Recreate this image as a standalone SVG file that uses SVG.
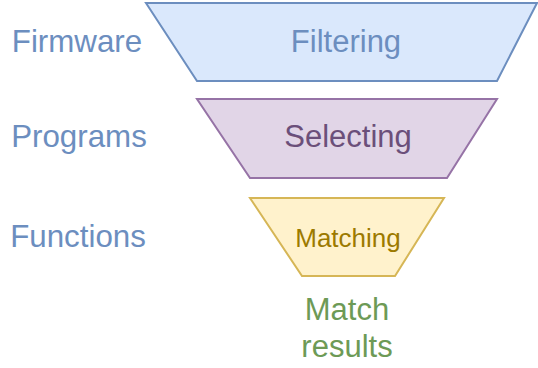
<svg xmlns="http://www.w3.org/2000/svg" width="538" height="368" viewBox="0 0 538 368">
<style>
text{font-family:"Liberation Sans",Arial,sans-serif;text-anchor:middle}
.lbl{font-size:31.3px;fill:#6c8ebf}
.blue{fill:#dae8fc;stroke:#6c8ebf;stroke-width:2}
.purple{fill:#e1d5e7;stroke:#9673a6;stroke-width:2}
.yellow{fill:#fff2cc;stroke:#d6b656;stroke-width:2}
</style>
<rect width="538" height="368" fill="#ffffff"/>
<g id="firmware"><text class="lbl" x="77" y="52">Firmware</text></g>
<g id="programs"><text class="lbl" x="79" y="147">Programs</text></g>
<g id="functions"><text class="lbl" x="78" y="247">Functions</text></g>
<g id="filtering">
<polygon class="blue" points="146,3 537,3 497,81 197,81"/>
<text x="346" y="52" style="font-size:31px;fill:#6c8ebf">Filtering</text>
</g>
<g id="selecting">
<polygon class="purple" points="197,99 497,99 447,178 250,178"/>
<text x="348" y="147" style="font-size:31px;fill:#6b4f7a">Selecting</text>
</g>
<g id="matching">
<polygon class="yellow" points="250,198 444,198 395,276 302,276"/>
<text x="348" y="247" style="font-size:26px;fill:#9c7a00">Matching</text>
</g>
<g id="match-results">
<text x="347" y="320" style="font-size:31px;fill:#6d9a56">Match</text>
<text x="347" y="357" style="font-size:31px;fill:#6d9a56">results</text>
</g>
<g id="connectors"></g>
</svg>
